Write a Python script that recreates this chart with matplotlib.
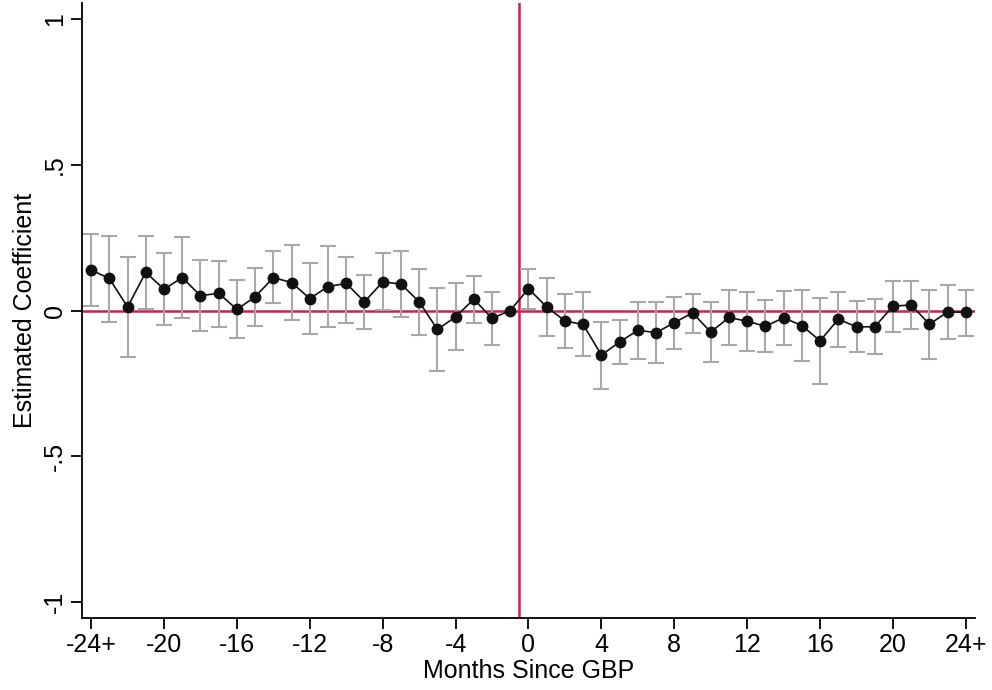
import numpy as np
import matplotlib
matplotlib.use("Agg")
import matplotlib.pyplot as plt

plt.rcParams['font.family'] = ['Liberation Sans', 'DejaVu Sans']

# months relative to GBP (-1 is the omitted reference month)
months = np.arange(-24, 25)

coef = [0.139, 0.110, 0.012, 0.131, 0.073, 0.113, 0.051, 0.059, 0.004, 0.047,
        0.113, 0.096, 0.041, 0.082, 0.093, 0.030, 0.098, 0.091, 0.030, -0.065,
        -0.022, 0.039, -0.027, 0.000, 0.075, 0.012, -0.036, -0.048, -0.153, -0.108,
        -0.068, -0.076, -0.042, -0.008, -0.074, -0.024, -0.037, -0.054, -0.025, -0.052,
        -0.104, -0.030, -0.056, -0.056, 0.015, 0.019, -0.047, -0.005, -0.006]

ci_hi = [0.261, 0.257, 0.185, 0.256, 0.196, 0.251, 0.175, 0.171, 0.106, 0.146,
         0.203, 0.224, 0.162, 0.221, 0.183, 0.122, 0.197, 0.203, 0.144, 0.078,
         0.094, 0.120, 0.065, 0.000, 0.143, 0.113, 0.056, 0.064, -0.039, -0.032,
         0.028, 0.030, 0.047, 0.058, 0.030, 0.070, 0.064, 0.035, 0.067, 0.071,
         0.043, 0.063, 0.032, 0.040, 0.103, 0.103, 0.072, 0.087, 0.071]

ci_lo = [0.016, -0.038, -0.159, 0.005, -0.050, -0.025, -0.071, -0.055, -0.095, -0.054,
         0.025, -0.034, -0.081, -0.056, -0.042, -0.063, 0.001, -0.022, -0.085, -0.208,
         -0.137, -0.042, -0.120, 0.000, 0.006, -0.087, -0.128, -0.157, -0.268, -0.183,
         -0.166, -0.180, -0.132, -0.076, -0.178, -0.120, -0.139, -0.142, -0.119, -0.174,
         -0.252, -0.124, -0.142, -0.150, -0.073, -0.065, -0.165, -0.097, -0.086]

xticks = [-24, -20, -16, -12, -8, -4, 0, 4, 8, 12, 16, 20, 24]
xticklabels = ['-24+', '-20', '-16', '-12', '-8', '-4', '0', '4', '8', '12', '16', '20', '24+']
yticks = [-1, -0.5, 0, 0.5, 1]
yticklabels = ['-1', '-.5', '0', '.5', '1']

coef = np.array(coef)
ci_hi = np.array(ci_hi)
ci_lo = np.array(ci_lo)

red = '#d21f4e'

fig = plt.figure(figsize=(9.92, 6.9), dpi=100)
ax = fig.add_axes([82/992, 1-618/690, (975-82)/992, (618-3)/690])

ax.axhline(0, color=red, lw=1.8, zorder=1)
ax.axvline(-0.5, color=red, lw=1.8, zorder=1)

# error bars (skip the reference month)
has_ci = months != -1
ax.errorbar(months[has_ci], coef[has_ci],
            yerr=[coef[has_ci] - ci_lo[has_ci], ci_hi[has_ci] - coef[has_ci]],
            fmt='none', ecolor='#a8a8a8', elinewidth=1.5, capsize=5.5, capthick=1.5, zorder=2)
ax.plot(months, coef, color='#111111', lw=1.2, marker='o', ms=7.5, zorder=3)

ax.set_xlim(-24.5, 24.5)
ax.set_ylim(-1.056, 1.056)
ax.set_xticks(xticks)
ax.set_xticklabels(xticklabels)
ax.set_yticks(yticks)
ax.set_yticklabels(yticklabels, rotation=90, va='center')

for s in ['top', 'right']:
    ax.spines[s].set_visible(False)
for s in ['left', 'bottom']:
    ax.spines[s].set_linewidth(1.3)

ax.tick_params(axis='both', direction='out', length=8, width=1.3, labelsize=18, pad=3)
ax.set_xlabel('Months Since GBP', fontsize=18, labelpad=1)
ax.set_ylabel('Estimated Coefficient', fontsize=18, labelpad=4)

fig.savefig('out.png', dpi=100)
